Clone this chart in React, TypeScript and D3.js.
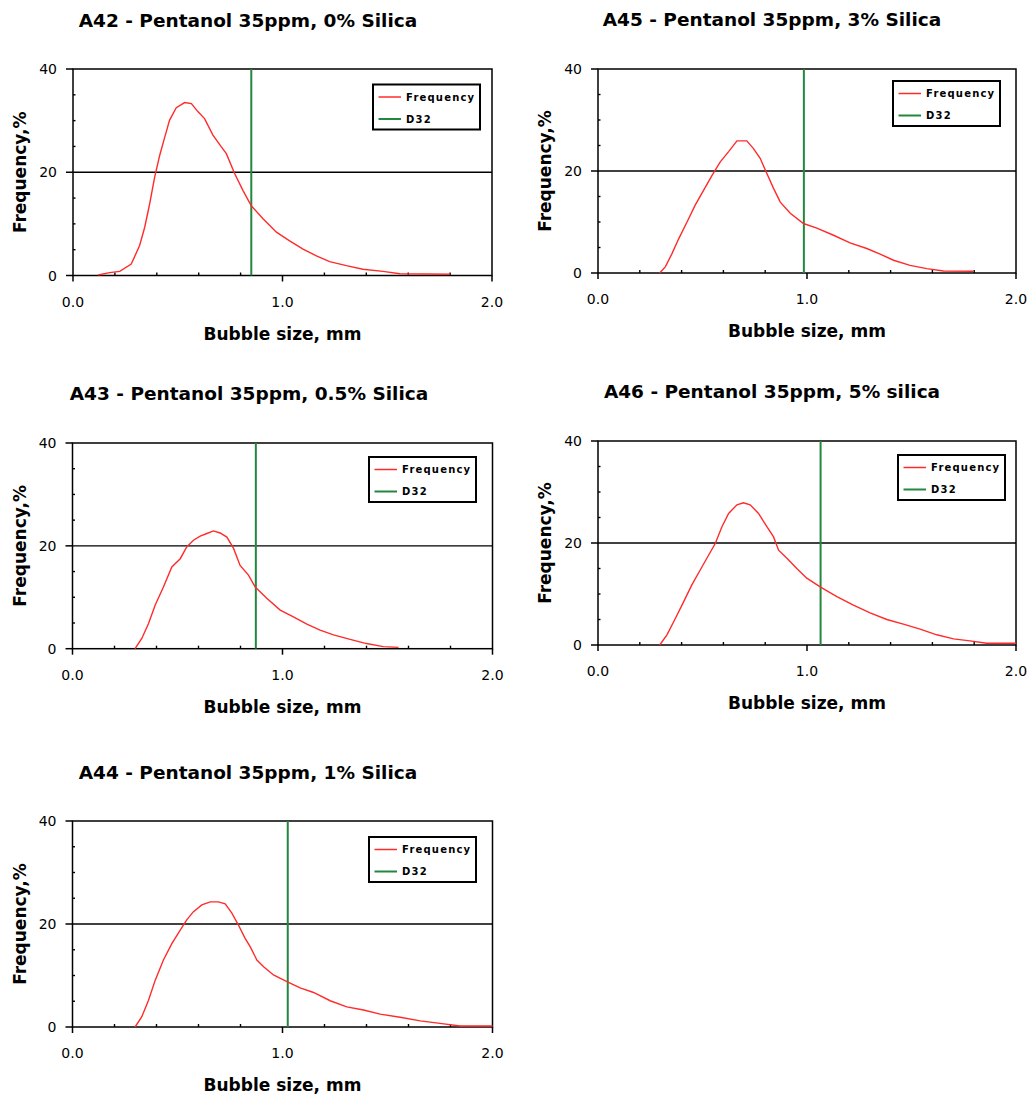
import React from "react";
import * as d3 from "d3";

// Bubble size distributions (mm vs frequency %) and Sauter mean diameter D32
const sizeA42 = [0.12, 0.175, 0.223, 0.278, 0.318, 0.342, 0.366, 0.39, 0.414, 0.438, 0.461, 0.493, 0.533, 0.565, 0.597, 0.628, 0.668, 0.708, 0.732, 0.772, 0.811, 0.851, 0.907, 0.971, 1.034, 1.098, 1.162, 1.225, 1.305, 1.384, 1.48, 1.56, 1.8];
const freqA42 = [0.1, 0.55, 0.8, 2.2, 5.8, 9.3, 13.9, 19.1, 23.3, 26.8, 30.1, 32.5, 33.5, 33.3, 31.7, 30.4, 27.2, 24.9, 23.6, 19.7, 16.5, 13.5, 11.0, 8.4, 6.7, 5.1, 3.8, 2.7, 1.9, 1.2, 0.8, 0.35, 0.25];
const d32A42 = 0.851;

const sizeA45 = [0.295, 0.322, 0.354, 0.386, 0.426, 0.465, 0.505, 0.545, 0.585, 0.625, 0.665, 0.712, 0.744, 0.776, 0.808, 0.84, 0.872, 0.92, 0.983, 1.047, 1.127, 1.206, 1.286, 1.35, 1.414, 1.493, 1.573, 1.653, 1.796];
const freqA45 = [0, 1.2, 3.8, 6.7, 10.0, 13.3, 16.2, 19.1, 21.8, 23.8, 25.9, 25.9, 24.4, 22.5, 19.5, 16.6, 13.9, 11.7, 9.7, 8.8, 7.4, 5.9, 4.8, 3.7, 2.5, 1.5, 0.85, 0.4, 0.33];
const d32A45 = 0.985;

const sizeA43 = [0.298, 0.33, 0.362, 0.394, 0.433, 0.473, 0.513, 0.544, 0.576, 0.608, 0.64, 0.671, 0.703, 0.735, 0.767, 0.798, 0.838, 0.87, 0.925, 0.989, 1.052, 1.116, 1.179, 1.243, 1.322, 1.4, 1.48, 1.552];
const freqA43 = [0, 2.0, 4.9, 8.5, 12.0, 15.9, 17.5, 19.8, 21.1, 21.9, 22.4, 22.9, 22.5, 21.7, 19.5, 16.2, 14.3, 12.0, 9.8, 7.5, 6.2, 4.8, 3.6, 2.7, 1.8, 1.0, 0.4, 0.26];
const d32A43 = 0.873;

const sizeA46 = [0.295, 0.33, 0.37, 0.41, 0.449, 0.489, 0.529, 0.561, 0.593, 0.625, 0.665, 0.696, 0.728, 0.768, 0.808, 0.84, 0.864, 0.904, 0.951, 0.999, 1.063, 1.143, 1.222, 1.302, 1.382, 1.461, 1.541, 1.621, 1.701, 1.78, 1.86, 2.0];
const freqA46 = [0, 2.0, 5.2, 8.5, 11.8, 14.7, 17.6, 19.9, 23.2, 25.8, 27.5, 27.9, 27.5, 25.8, 23.2, 21.2, 18.6, 17.0, 15.0, 13.1, 11.4, 9.5, 7.8, 6.3, 5.0, 4.1, 3.1, 2.0, 1.2, 0.8, 0.33, 0.33];
const d32A46 = 1.065;

const sizeA44 = [0.298, 0.33, 0.362, 0.394, 0.433, 0.473, 0.513, 0.544, 0.576, 0.616, 0.656, 0.695, 0.727, 0.759, 0.79, 0.822, 0.846, 0.878, 0.91, 0.957, 1.021, 1.084, 1.148, 1.227, 1.306, 1.386, 1.465, 1.56, 1.656, 1.75, 1.846, 2.0];
const freqA44 = [0, 2.0, 5.2, 9.1, 13.0, 16.2, 18.8, 20.8, 22.4, 23.7, 24.3, 24.3, 23.9, 22.1, 19.8, 17.2, 15.6, 13.0, 11.7, 10.1, 8.8, 7.6, 6.7, 5.1, 3.9, 3.3, 2.5, 1.9, 1.2, 0.7, 0.2, 0.2];
const d32A44 = 1.025;

const titles = [
  "A42 - Pentanol 35ppm, 0% Silica",
  "A45 - Pentanol 35ppm, 3% Silica",
  "A43 - Pentanol 35ppm, 0.5% Silica",
  "A46 - Pentanol 35ppm, 5% silica",
  "A44 - Pentanol 35ppm, 1% Silica",
];

const xTicks = [0, 1, 2];
const yTicks = [0, 20, 40];
const xMinorTicks = [0.2, 0.4, 0.6, 0.8, 1.2, 1.4, 1.6, 1.8];
const yMinorTicks = [5, 10, 15, 25, 30, 35];
const gridValues = [20];
const legendLabels = ["Frequency", "D32"];

const xLabel = "Bubble size, mm";
const yLabel = "Frequency,%";

// Plot frame and legend placement of each panel
const layouts = [
  { left: 73, top: 69, right: 492, bottom: 275.5, legendX: 373, legendY: 84.5, titleX: 248, titleY: 20 },
  { left: 598, top: 69, right: 1016, bottom: 273, legendX: 893, legendY: 81, titleX: 772, titleY: 19.5 },
  { left: 72.5, top: 443, right: 492.5, bottom: 648.7, legendX: 369, legendY: 457, titleX: 249, titleY: 393 },
  { left: 598, top: 441, right: 1016, bottom: 645, legendX: 898, legendY: 455, titleX: 772, titleY: 390.7 },
  { left: 72.5, top: 821, right: 492.5, bottom: 1027, legendX: 369, legendY: 837, titleX: 248, titleY: 771.7 },
];

const panelData = [
  { sizes: sizeA42, freqs: freqA42, d32: d32A42 },
  { sizes: sizeA45, freqs: freqA45, d32: d32A45 },
  { sizes: sizeA43, freqs: freqA43, d32: d32A43 },
  { sizes: sizeA46, freqs: freqA46, d32: d32A46 },
  { sizes: sizeA44, freqs: freqA44, d32: d32A44 },
];

const RED = "#ff2b2b";
const GREEN = "#23873f";
const BOLD = "'DejaVu Sans', Verdana, sans-serif";

function Panel({ idx }: { idx: number }) {
  const L = layouts[idx];
  const D = panelData[idx];
  const x = d3.scaleLinear().domain([0, 2]).range([L.left, L.right]);
  const y = d3.scaleLinear().domain([0, 40]).range([L.bottom, L.top]);
  const pts: [number, number][] = D.sizes.map((s, i) => [s, D.freqs[i]]);
  const line = d3
    .line<[number, number]>()
    .x((d) => x(d[0]))
    .y((d) => y(d[1]))
    .curve(d3.curveLinear);
  const cx = (L.left + L.right) / 2;
  const cy = (L.top + L.bottom) / 2;
  const lg = { w: 107, h: 45 };

  return (
    <g>
      <text
        x={L.titleX}
        y={L.titleY + 6.8}
        textAnchor="middle"
        fontFamily={BOLD}
        fontWeight="bold"
        fontSize={18.5}
        fill="#000"
      >
        {titles[idx]}
      </text>

      {/* gridline at 20 */}
      {gridValues.map((g) => (
        <line key={g} x1={L.left} x2={L.right} y1={y(g)} y2={y(g)} stroke="#000" strokeWidth={1.4} />
      ))}

      {/* frame */}
      <rect
        x={L.left}
        y={L.top}
        width={L.right - L.left}
        height={L.bottom - L.top}
        fill="none"
        stroke="#000"
        strokeWidth={1.5}
      />

      {/* y ticks */}
      {yTicks.map((t) => (
        <g key={"y" + t}>
          <line x1={L.left - 7} x2={L.left} y1={y(t)} y2={y(t)} stroke="#000" strokeWidth={1.5} />
          <text
            x={L.left - 16}
            y={y(t) + 5}
            textAnchor="end"
            fontFamily={BOLD}
            fontSize={14}
            fill="#000"
          >
            {t}
          </text>
        </g>
      ))}
      {yMinorTicks.map((t) => (
        <line key={"ym" + t} x1={L.left} x2={L.left + 2.5} y1={y(t)} y2={y(t)} stroke="#000" strokeWidth={1.4} />
      ))}

      {/* x ticks */}
      {xTicks.map((t) => (
        <g key={"x" + t}>
          <line x1={x(t)} x2={x(t)} y1={L.bottom} y2={L.bottom + 6} stroke="#000" strokeWidth={1.5} />
          <text
            x={x(t)}
            y={L.bottom + 31}
            textAnchor="middle"
            fontFamily={BOLD}
            fontSize={14}
            fill="#000"
          >
            {d3.format(".1f")(t)}
          </text>
        </g>
      ))}
      {xMinorTicks.map((t) => (
        <line key={"xm" + t} x1={x(t)} x2={x(t)} y1={L.bottom} y2={L.bottom - 3} stroke="#000" strokeWidth={1.4} />
      ))}

      {/* D32 marker */}
      <line x1={x(D.d32)} x2={x(D.d32)} y1={L.top} y2={L.bottom} stroke={GREEN} strokeWidth={2} />

      {/* frequency curve */}
      <path d={line(pts) || ""} fill="none" stroke={RED} strokeWidth={1.4} />

      {/* axis titles */}
      <text
        x={cx}
        y={L.bottom + 64}
        textAnchor="middle"
        fontFamily={BOLD}
        fontWeight="bold"
        fontSize={17}
        fill="#000"
      >
        {xLabel}
      </text>
      <text
        transform={`translate(${L.left - 47},${cy}) rotate(-90)`}
        textAnchor="middle"
        fontFamily={BOLD}
        fontWeight="bold"
        fontSize={17}
        fill="#000"
      >
        {yLabel}
      </text>

      {/* legend */}
      <g transform={`translate(${L.legendX},${L.legendY})`}>
        <rect x={0} y={0} width={lg.w} height={lg.h} fill="#fff" stroke="#000" strokeWidth={2} />
        {legendLabels.map((lab, i) => (
          <g key={lab} transform={`translate(0,${12.5 + i * 22})`}>
            <line x1={5.5} x2={28} y1={0} y2={0} stroke={i === 0 ? RED : GREEN} strokeWidth={i === 0 ? 1.5 : 2} />
            <text
              x={33}
              y={3.8}
              fontFamily={BOLD}
              fontWeight="bold"
              fontSize={10}
              letterSpacing={1.2}
              fill="#000"
            >
              {lab}
            </text>
          </g>
        ))}
      </g>
    </g>
  );
}

export default function App() {
  return (
    <svg
      width={1032}
      height={1099}
      style={{ position: "absolute", left: 0, top: 0, background: "#fff" }}
    >
      <rect width={1032} height={1099} fill="#fff" />
      {layouts.map((_, i) => (
        <Panel key={i} idx={i} />
      ))}
    </svg>
  );
}
